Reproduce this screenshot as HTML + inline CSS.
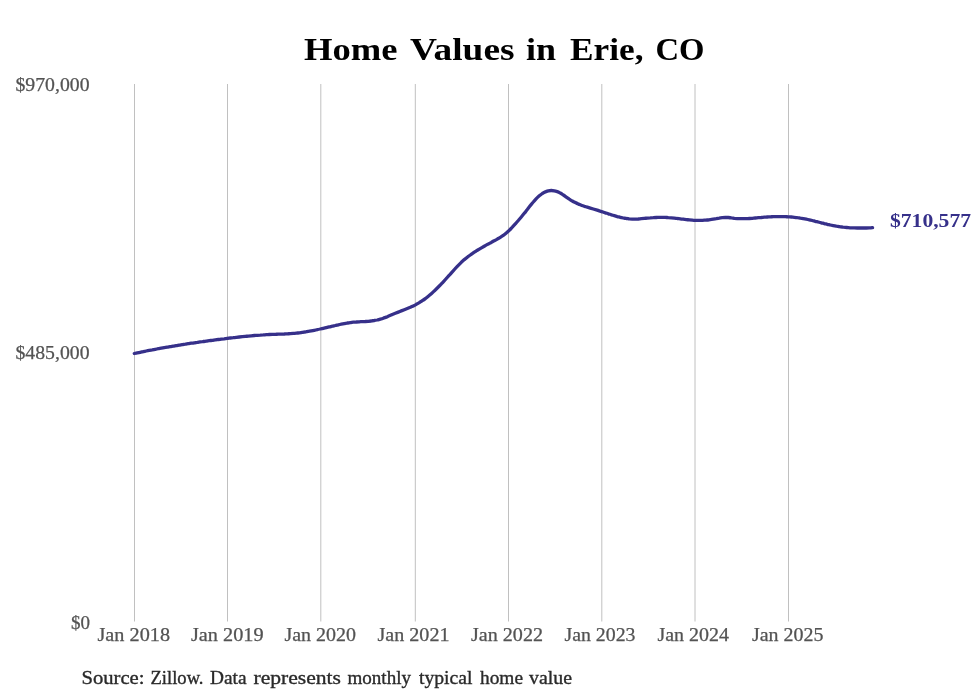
<!DOCTYPE html>
<html>
<head>
<meta charset="utf-8">
<title>Home Values in Erie, CO</title>
<style>
html,body{margin:0;padding:0;background:#fff;}
body{width:980px;height:699px;overflow:hidden;position:relative;font-family:"Liberation Serif",serif;}
svg{position:absolute;left:0;top:0;will-change:transform;}
</style>
</head>
<body>
<svg width="980" height="699" viewBox="0 0 980 699">
<rect x="0" y="0" width="980" height="699" fill="#fff"/>
<g stroke="#c0c0c0" stroke-width="1">
<line x1="134.5" y1="84" x2="134.5" y2="621.5"/>
<line x1="227.5" y1="84" x2="227.5" y2="621.5"/>
<line x1="320.8" y1="84" x2="320.8" y2="621.5"/>
<line x1="415.3" y1="84" x2="415.3" y2="621.5"/>
<line x1="508.5" y1="84" x2="508.5" y2="621.5"/>
<line x1="601.8" y1="84" x2="601.8" y2="621.5"/>
<line x1="695.0" y1="84" x2="695.0" y2="621.5"/>
<line x1="788.5" y1="84" x2="788.5" y2="621.5"/>
</g>
<path fill="none" stroke="#36308a" stroke-width="3.3" stroke-linejoin="round" stroke-linecap="round" d="M134.3,353.5 C134.8,353.4 136.3,353.1 137.3,352.9 C138.3,352.7 139.3,352.5 140.3,352.3 C141.3,352.1 142.3,351.8 143.3,351.6 C144.3,351.4 145.3,351.2 146.3,351.0 C147.3,350.8 148.3,350.6 149.3,350.4 C150.3,350.2 151.3,350.0 152.3,349.9 C153.3,349.7 154.3,349.5 155.3,349.3 C156.3,349.1 157.3,348.9 158.3,348.7 C159.3,348.5 160.3,348.4 161.3,348.2 C162.3,348.0 163.3,347.8 164.3,347.6 C165.3,347.5 166.3,347.3 167.3,347.1 C168.3,346.9 169.3,346.8 170.3,346.6 C171.3,346.4 172.3,346.3 173.3,346.1 C174.3,345.9 175.3,345.8 176.3,345.6 C177.3,345.4 178.3,345.3 179.3,345.1 C180.3,344.9 181.3,344.8 182.3,344.6 C183.3,344.5 184.3,344.3 185.3,344.2 C186.3,344.0 187.3,343.9 188.3,343.7 C189.3,343.5 190.3,343.4 191.3,343.2 C192.3,343.1 193.3,343.0 194.3,342.8 C195.3,342.7 196.3,342.5 197.3,342.4 C198.3,342.2 199.3,342.1 200.3,341.9 C201.3,341.8 202.3,341.7 203.3,341.5 C204.3,341.4 205.3,341.2 206.3,341.1 C207.3,341.0 208.3,340.8 209.3,340.7 C210.3,340.6 211.3,340.4 212.3,340.3 C213.3,340.2 214.3,340.0 215.3,339.9 C216.3,339.8 217.3,339.6 218.3,339.5 C219.3,339.4 220.3,339.3 221.3,339.1 C222.3,339.0 223.3,338.9 224.3,338.8 C225.3,338.6 226.3,338.5 227.3,338.4 C228.3,338.3 229.3,338.1 230.3,338.0 C231.3,337.9 232.3,337.8 233.3,337.7 C234.3,337.5 235.3,337.4 236.3,337.3 C237.3,337.2 238.3,337.1 239.3,337.0 C240.3,336.9 241.3,336.8 242.3,336.7 C243.3,336.6 244.3,336.5 245.3,336.4 C246.3,336.3 247.3,336.2 248.3,336.1 C249.3,336.0 250.3,335.9 251.3,335.8 C252.3,335.7 253.3,335.6 254.3,335.5 C255.3,335.4 256.3,335.4 257.3,335.3 C258.3,335.2 259.3,335.1 260.3,335.1 C261.3,335.0 262.3,334.9 263.3,334.9 C264.3,334.8 265.3,334.8 266.3,334.7 C267.3,334.6 268.3,334.6 269.3,334.5 C270.3,334.5 271.3,334.5 272.3,334.4 C273.3,334.4 274.3,334.3 275.3,334.3 C276.3,334.3 277.3,334.2 278.3,334.2 C279.3,334.2 280.3,334.1 281.3,334.1 C282.3,334.1 283.3,334.0 284.3,334.0 C285.3,333.9 286.3,333.9 287.3,333.8 C288.3,333.8 289.3,333.7 290.3,333.7 C291.3,333.6 292.3,333.5 293.3,333.4 C294.3,333.4 295.3,333.3 296.3,333.2 C297.3,333.1 298.3,332.9 299.3,332.8 C300.3,332.7 301.3,332.6 302.3,332.4 C303.3,332.3 304.3,332.1 305.3,332.0 C306.3,331.8 307.3,331.6 308.3,331.4 C309.3,331.3 310.3,331.1 311.3,330.9 C312.3,330.7 313.3,330.5 314.3,330.3 C315.3,330.1 316.3,329.9 317.3,329.7 C318.3,329.4 319.3,329.2 320.3,329.0 C321.3,328.8 322.3,328.6 323.3,328.3 C324.3,328.1 325.3,327.9 326.3,327.6 C327.3,327.4 328.3,327.2 329.3,326.9 C330.3,326.7 331.3,326.4 332.3,326.2 C333.3,326.0 334.3,325.7 335.3,325.5 C336.3,325.3 337.3,325.0 338.3,324.8 C339.3,324.6 340.3,324.4 341.3,324.2 C342.3,324.0 343.3,323.8 344.3,323.6 C345.3,323.4 346.3,323.2 347.3,323.0 C348.3,322.9 349.3,322.7 350.3,322.6 C351.3,322.5 352.3,322.3 353.3,322.2 C354.3,322.1 355.3,322.0 356.3,322.0 C357.3,321.9 358.3,321.8 359.3,321.8 C360.3,321.7 361.3,321.7 362.3,321.6 C363.3,321.6 364.3,321.5 365.3,321.5 C366.3,321.4 367.3,321.3 368.3,321.3 C369.3,321.2 370.3,321.1 371.3,321.0 C372.3,320.8 373.3,320.7 374.3,320.5 C375.3,320.4 376.3,320.2 377.3,320.0 C378.3,319.7 379.3,319.5 380.3,319.2 C381.3,318.9 382.3,318.6 383.3,318.2 C384.3,317.8 385.3,317.5 386.3,317.1 C387.3,316.7 388.3,316.2 389.3,315.8 C390.3,315.4 391.3,315.0 392.3,314.5 C393.3,314.1 394.3,313.7 395.3,313.3 C396.3,312.9 397.3,312.5 398.3,312.1 C399.3,311.7 400.3,311.3 401.3,310.9 C402.3,310.5 403.3,310.1 404.3,309.7 C405.3,309.3 406.3,308.9 407.3,308.5 C408.3,308.1 409.3,307.7 410.3,307.3 C411.3,306.8 412.3,306.4 413.3,305.9 C414.3,305.4 415.3,304.9 416.3,304.3 C417.3,303.8 418.3,303.3 419.3,302.7 C420.3,302.0 421.3,301.4 422.3,300.7 C423.3,300.1 424.3,299.4 425.3,298.6 C426.3,297.9 427.3,297.1 428.3,296.2 C429.3,295.4 430.3,294.6 431.3,293.7 C432.3,292.8 433.3,291.9 434.3,290.9 C435.3,290.0 436.3,289.0 437.3,288.0 C438.3,287.0 439.3,286.0 440.3,285.0 C441.3,283.9 442.3,282.9 443.3,281.8 C444.3,280.7 445.3,279.6 446.3,278.5 C447.3,277.4 448.3,276.3 449.3,275.2 C450.3,274.0 451.3,272.9 452.3,271.8 C453.3,270.7 454.3,269.6 455.3,268.5 C456.3,267.4 457.3,266.3 458.3,265.3 C459.3,264.3 460.3,263.3 461.3,262.3 C462.3,261.4 463.3,260.5 464.3,259.6 C465.3,258.8 466.3,258.0 467.3,257.2 C468.3,256.4 469.3,255.7 470.3,255.0 C471.3,254.2 472.3,253.6 473.3,252.9 C474.3,252.2 475.3,251.6 476.3,250.9 C477.3,250.3 478.3,249.7 479.3,249.1 C480.3,248.5 481.3,247.9 482.3,247.3 C483.3,246.7 484.3,246.2 485.3,245.6 C486.3,245.0 487.3,244.5 488.3,244.0 C489.3,243.4 490.3,242.9 491.3,242.4 C492.3,241.8 493.3,241.3 494.3,240.7 C495.3,240.2 496.3,239.7 497.3,239.1 C498.3,238.5 499.3,238.0 500.3,237.3 C501.3,236.7 502.3,236.1 503.3,235.4 C504.3,234.7 505.3,233.9 506.3,233.0 C507.3,232.2 508.3,231.2 509.3,230.3 C510.3,229.3 511.3,228.2 512.3,227.2 C513.3,226.1 514.3,225.0 515.3,223.9 C516.3,222.7 517.3,221.6 518.3,220.5 C519.3,219.3 520.3,218.2 521.3,217.0 C522.3,215.8 523.3,214.6 524.3,213.3 C525.3,212.1 526.3,210.7 527.3,209.5 C528.3,208.2 529.3,206.9 530.3,205.6 C531.3,204.4 532.3,203.1 533.3,202.0 C534.3,200.8 535.3,199.7 536.3,198.6 C537.3,197.6 538.3,196.7 539.3,195.8 C540.3,195.0 541.3,194.2 542.3,193.5 C543.3,192.9 544.3,192.3 545.3,191.9 C546.3,191.4 547.3,191.1 548.3,190.8 C549.3,190.6 550.3,190.5 551.3,190.5 C552.3,190.5 553.3,190.6 554.3,190.8 C555.3,191.0 556.3,191.3 557.3,191.6 C558.3,192.0 559.3,192.5 560.3,193.1 C561.3,193.6 562.3,194.3 563.3,195.0 C564.3,195.6 565.3,196.4 566.3,197.1 C567.3,197.8 568.3,198.5 569.3,199.2 C570.3,199.8 571.3,200.5 572.3,201.0 C573.3,201.6 574.3,202.1 575.3,202.6 C576.3,203.1 577.3,203.6 578.3,204.0 C579.3,204.5 580.3,204.8 581.3,205.2 C582.3,205.6 583.3,205.9 584.3,206.3 C585.3,206.6 586.3,206.9 587.3,207.2 C588.3,207.5 589.3,207.8 590.3,208.1 C591.3,208.4 592.3,208.7 593.3,209.0 C594.3,209.3 595.3,209.6 596.3,209.9 C597.3,210.2 598.3,210.5 599.3,210.9 C600.3,211.2 601.3,211.5 602.3,211.8 C603.3,212.2 604.3,212.5 605.3,212.8 C606.3,213.1 607.3,213.5 608.3,213.8 C609.3,214.1 610.3,214.5 611.3,214.8 C612.3,215.1 613.3,215.4 614.3,215.7 C615.3,216.0 616.3,216.3 617.3,216.6 C618.3,216.8 619.3,217.1 620.3,217.3 C621.3,217.6 622.3,217.8 623.3,218.0 C624.3,218.2 625.3,218.3 626.3,218.5 C627.3,218.6 628.3,218.8 629.3,218.9 C630.3,218.9 631.3,219.0 632.3,219.1 C633.3,219.1 634.3,219.1 635.3,219.1 C636.3,219.1 637.3,219.0 638.3,219.0 C639.3,218.9 640.3,218.8 641.3,218.7 C642.3,218.6 643.3,218.5 644.3,218.4 C645.3,218.3 646.3,218.2 647.3,218.1 C648.3,218.0 649.3,217.9 650.3,217.9 C651.3,217.8 652.3,217.7 653.3,217.7 C654.3,217.6 655.3,217.5 656.3,217.5 C657.3,217.5 658.3,217.4 659.3,217.4 C660.3,217.4 661.3,217.4 662.3,217.4 C663.3,217.4 664.3,217.4 665.3,217.4 C666.3,217.5 667.3,217.5 668.3,217.6 C669.3,217.6 670.3,217.7 671.3,217.8 C672.3,217.9 673.3,218.0 674.3,218.1 C675.3,218.2 676.3,218.3 677.3,218.5 C678.3,218.6 679.3,218.7 680.3,218.8 C681.3,219.0 682.3,219.1 683.3,219.2 C684.3,219.4 685.3,219.5 686.3,219.6 C687.3,219.7 688.3,219.8 689.3,219.9 C690.3,220.0 691.3,220.1 692.3,220.2 C693.3,220.3 694.3,220.3 695.3,220.4 C696.3,220.4 697.3,220.4 698.3,220.4 C699.3,220.4 700.3,220.4 701.3,220.4 C702.3,220.4 703.3,220.3 704.3,220.2 C705.3,220.2 706.3,220.1 707.3,220.0 C708.3,219.9 709.3,219.7 710.3,219.6 C711.3,219.5 712.3,219.3 713.3,219.1 C714.3,218.9 715.3,218.7 716.3,218.6 C717.3,218.4 718.3,218.2 719.3,218.1 C720.3,217.9 721.3,217.8 722.3,217.7 C723.3,217.6 724.3,217.5 725.3,217.5 C726.3,217.5 727.3,217.5 728.3,217.5 C729.3,217.6 730.3,217.7 731.3,217.9 C732.3,218.0 733.3,218.1 734.3,218.3 C735.3,218.4 736.3,218.5 737.3,218.6 C738.3,218.6 739.3,218.7 740.3,218.7 C741.3,218.7 742.3,218.7 743.3,218.7 C744.3,218.7 745.3,218.7 746.3,218.7 C747.3,218.6 748.3,218.6 749.3,218.5 C750.3,218.4 751.3,218.3 752.3,218.3 C753.3,218.2 754.3,218.1 755.3,218.0 C756.3,217.9 757.3,217.8 758.3,217.7 C759.3,217.6 760.3,217.5 761.3,217.5 C762.3,217.4 763.3,217.3 764.3,217.2 C765.3,217.1 766.3,217.1 767.3,217.0 C768.3,216.9 769.3,216.9 770.3,216.8 C771.3,216.8 772.3,216.7 773.3,216.7 C774.3,216.7 775.3,216.6 776.3,216.6 C777.3,216.6 778.3,216.6 779.3,216.6 C780.3,216.6 781.3,216.6 782.3,216.6 C783.3,216.6 784.3,216.6 785.3,216.7 C786.3,216.7 787.3,216.8 788.3,216.8 C789.3,216.9 790.3,216.9 791.3,217.0 C792.3,217.1 793.3,217.2 794.3,217.3 C795.3,217.4 796.3,217.5 797.3,217.7 C798.3,217.8 799.3,217.9 800.3,218.1 C801.3,218.2 802.3,218.4 803.3,218.6 C804.3,218.8 805.3,219.0 806.3,219.2 C807.3,219.4 808.3,219.6 809.3,219.8 C810.3,220.1 811.3,220.3 812.3,220.5 C813.3,220.8 814.3,221.0 815.3,221.3 C816.3,221.5 817.3,221.8 818.3,222.0 C819.3,222.3 820.3,222.6 821.3,222.8 C822.3,223.1 823.3,223.3 824.3,223.6 C825.3,223.8 826.3,224.1 827.3,224.3 C828.3,224.5 829.3,224.8 830.3,225.0 C831.3,225.2 832.3,225.4 833.3,225.6 C834.3,225.8 835.3,226.0 836.3,226.2 C837.3,226.3 838.3,226.5 839.3,226.6 C840.3,226.8 841.3,226.9 842.3,227.0 C843.3,227.2 844.3,227.3 845.3,227.4 C846.3,227.5 847.3,227.5 848.3,227.6 C849.3,227.7 850.3,227.8 851.3,227.8 C852.3,227.9 853.3,227.9 854.3,227.9 C855.3,228.0 856.3,228.0 857.3,228.0 C858.3,228.0 859.3,228.0 860.3,228.0 C861.3,228.0 862.3,228.0 863.3,228.0 C864.3,228.0 865.3,228.0 866.3,228.0 C867.3,227.9 868.3,227.9 869.3,227.9 C870.3,227.8 871.8,227.8 872.3,227.7 C872.8,227.7 872.5,227.7 872.6,227.7"/>
<text x="15.5" y="90.5" font-family="Liberation Serif" fill="#535353" stroke="#535353" stroke-width="0.25" font-size="18.5" textLength="74.0" lengthAdjust="spacingAndGlyphs">$970,000</text>
<text x="15.5" y="358.5" font-family="Liberation Serif" fill="#535353" stroke="#535353" stroke-width="0.25" font-size="18.5" textLength="74.0" lengthAdjust="spacingAndGlyphs">$485,000</text>
<text x="71.0" y="629.2" font-family="Liberation Serif" fill="#535353" stroke="#535353" stroke-width="0.25" font-size="18.5" textLength="19.0" lengthAdjust="spacingAndGlyphs">$0</text>
<text x="97.5" y="640.5" font-family="Liberation Serif" fill="#535353" stroke="#535353" stroke-width="0.25" font-size="18" textLength="72.5" lengthAdjust="spacingAndGlyphs">Jan 2018</text>
<text x="191.0" y="640.5" font-family="Liberation Serif" fill="#535353" stroke="#535353" stroke-width="0.25" font-size="18" textLength="72.5" lengthAdjust="spacingAndGlyphs">Jan 2019</text>
<text x="284.5" y="640.5" font-family="Liberation Serif" fill="#535353" stroke="#535353" stroke-width="0.25" font-size="18" textLength="71.5" lengthAdjust="spacingAndGlyphs">Jan 2020</text>
<text x="377.5" y="640.5" font-family="Liberation Serif" fill="#535353" stroke="#535353" stroke-width="0.25" font-size="18" textLength="72.0" lengthAdjust="spacingAndGlyphs">Jan 2021</text>
<text x="471.0" y="640.5" font-family="Liberation Serif" fill="#535353" stroke="#535353" stroke-width="0.25" font-size="18" textLength="72.0" lengthAdjust="spacingAndGlyphs">Jan 2022</text>
<text x="564.5" y="640.5" font-family="Liberation Serif" fill="#535353" stroke="#535353" stroke-width="0.25" font-size="18" textLength="71.0" lengthAdjust="spacingAndGlyphs">Jan 2023</text>
<text x="657.5" y="640.5" font-family="Liberation Serif" fill="#535353" stroke="#535353" stroke-width="0.25" font-size="18" textLength="71.5" lengthAdjust="spacingAndGlyphs">Jan 2024</text>
<text x="752.0" y="640.5" font-family="Liberation Serif" fill="#535353" stroke="#535353" stroke-width="0.25" font-size="18" textLength="71.5" lengthAdjust="spacingAndGlyphs">Jan 2025</text>
<text x="304.0" y="60.4" font-family="Liberation Serif" font-weight="bold" fill="#000" font-size="32" textLength="93.5" lengthAdjust="spacingAndGlyphs">Home</text>
<text x="410.0" y="60.4" font-family="Liberation Serif" font-weight="bold" fill="#000" font-size="32" textLength="104.5" lengthAdjust="spacingAndGlyphs">Values</text>
<text x="526.0" y="60.4" font-family="Liberation Serif" font-weight="bold" fill="#000" font-size="32" textLength="30.0" lengthAdjust="spacingAndGlyphs">in</text>
<text x="570.0" y="60.4" font-family="Liberation Serif" font-weight="bold" fill="#000" font-size="32" textLength="73.5" lengthAdjust="spacingAndGlyphs">Erie,</text>
<text x="655.5" y="60.4" font-family="Liberation Serif" font-weight="bold" fill="#000" font-size="32" textLength="49.0" lengthAdjust="spacingAndGlyphs">CO</text>
<text x="890.0" y="226.9" font-family="Liberation Serif" font-weight="bold" font-size="18" fill="#36308a" textLength="81.0" lengthAdjust="spacingAndGlyphs">$710,577</text>
<text x="81.5" y="683.7" font-family="Liberation Serif" font-size="19" fill="#2a2a2a" stroke="#2a2a2a" stroke-width="0.35" textLength="63.0" lengthAdjust="spacingAndGlyphs">Source:</text>
<text x="150.5" y="683.7" font-family="Liberation Serif" font-size="19" fill="#2a2a2a" stroke="#2a2a2a" stroke-width="0.35" textLength="53.0" lengthAdjust="spacingAndGlyphs">Zillow.</text>
<text x="210.0" y="683.7" font-family="Liberation Serif" font-size="19" fill="#2a2a2a" stroke="#2a2a2a" stroke-width="0.35" textLength="36.5" lengthAdjust="spacingAndGlyphs">Data</text>
<text x="253.5" y="683.7" font-family="Liberation Serif" font-size="19" fill="#2a2a2a" stroke="#2a2a2a" stroke-width="0.35" textLength="87.5" lengthAdjust="spacingAndGlyphs">represents</text>
<text x="347.5" y="683.7" font-family="Liberation Serif" font-size="19" fill="#2a2a2a" stroke="#2a2a2a" stroke-width="0.35" textLength="63.5" lengthAdjust="spacingAndGlyphs">monthly</text>
<text x="419.0" y="683.7" font-family="Liberation Serif" font-size="19" fill="#2a2a2a" stroke="#2a2a2a" stroke-width="0.35" textLength="53.5" lengthAdjust="spacingAndGlyphs">typical</text>
<text x="480.0" y="683.7" font-family="Liberation Serif" font-size="19" fill="#2a2a2a" stroke="#2a2a2a" stroke-width="0.35" textLength="43.0" lengthAdjust="spacingAndGlyphs">home</text>
<text x="529.0" y="683.7" font-family="Liberation Serif" font-size="19" fill="#2a2a2a" stroke="#2a2a2a" stroke-width="0.35" textLength="43.0" lengthAdjust="spacingAndGlyphs">value</text>
</svg>
</body>
</html>
